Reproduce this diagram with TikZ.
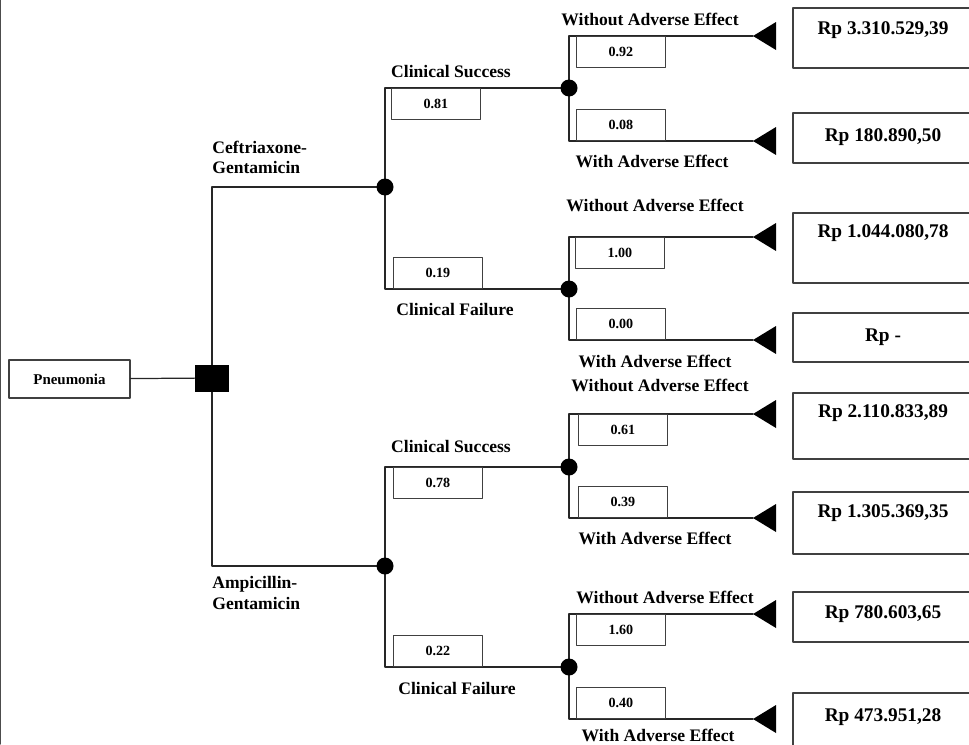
\documentclass[tikz,border=0pt]{standalone}
\usepackage{fontspec}
\setmainfont{Liberation Serif}
\usetikzlibrary{calc}

\begin{document}
\begin{tikzpicture}[x=0.02cm, y=-0.02cm, line cap=round, line join=round,
    treeline/.style={line width=0.7pt, draw=black!85},
    probbox/.style={draw=black!75, line width=0.45pt, minimum width=1.78cm, minimum height=0.62cm, inner sep=0pt, font=\fontsize{8}{9}\selectfont\bfseries},
    lbl/.style={inner sep=0pt, font=\fontsize{10}{11.5}\selectfont\bfseries},
    payoff/.style={inner sep=0pt, font=\fontsize{11}{13}\selectfont\bfseries},
    chance/.style={circle, fill=black, inner sep=0pt, minimum size=0.34cm},
    decision/.style={rectangle, fill=black, inner sep=0pt, minimum width=0.68cm, minimum height=0.54cm}]

    \useasboundingbox (0,0) rectangle (969,744);
    \clip (0,0) rectangle (969,744);

    % left frame edge
    \draw[black!70, line width=0.8pt] (0.6,0) -- (0.6,744);

    \node[draw=black!75, line width=0.6pt, minimum width=2.42cm, minimum height=0.76cm, inner sep=0pt,
          font=\fontsize{8.5}{10}\selectfont\bfseries] (pn) at (69.5,379) {Pneumonia};

    \coordinate (dec) at (212,378);
    \coordinate (c1) at (385,187);
    \coordinate (c2) at (385,566);
    \coordinate (c11) at (569,88);
    \coordinate (c12) at (569,289);
    \coordinate (c21) at (569,467);
    \coordinate (c22) at (569,667);

    % terminal tips
    \foreach \i/\ty in {1/36, 2/141, 3/237, 4/340, 5/414, 6/518, 7/614, 8/719}
        \coordinate (t\i) at (753,\ty);

    % branches
    \draw[treeline] (pn) -- (dec);
    \draw[treeline] (dec) |- (c1);
    \draw[treeline] (dec) |- (c2);
    \draw[treeline] (c1) |- (c11);
    \draw[treeline] (c1) |- (c12);
    \draw[treeline] (c2) |- (c21);
    \draw[treeline] (c2) |- (c22);
    \foreach \c/\t in {c11/t1, c11/t2, c12/t3, c12/t4, c21/t5, c21/t6, c22/t7, c22/t8}
        \draw[treeline] (\c) |- (\t);

    % decision and chance nodes
    \node[decision] at (dec) {};
    \foreach \c in {c1, c2, c11, c12, c21, c22}
        \node[chance] at (\c) {};

    % terminals and payoffs
    \foreach \i/\top/\bot/\txty/\val in {1/8/68/30/{Rp 3.310.529,39}, 2/113/163/137/{Rp 180.890,50},
            3/213/283/233/{Rp 1.044.080,78}, 4/313/362/337/{Rp -},
            5/393/459/413/{Rp 2.110.833,89}, 6/492/554/513/{Rp 1.305.369,35},
            7/592/642/614/{Rp 780.603,65}, 8/693/770/717/{Rp 473.951,28}}{
        \fill[black] (t\i) -- ++(23,-14) -- ++(0,28) -- cycle;
        \draw[draw=black!75, line width=0.6pt] (793,\top) rectangle (990,\bot);
        \node[payoff] (pay\i) at (883,\txty) {\val};
    }

    % probabilities
    \node[probbox, anchor=north west] (p1) at (391,88) {0.81};
    \node[probbox, anchor=south west] (p2) at (393,289) {0.19};
    \node[probbox, anchor=north west] (p3) at (393,467) {0.78};
    \node[probbox, anchor=south west] (p4) at (393,667) {0.22};
    \node[probbox, anchor=north west] (p11) at (576,36) {0.92};
    \node[probbox, anchor=south west] (p12) at (576,141) {0.08};
    \node[probbox, anchor=north west] (p13) at (575,237) {1.00};
    \node[probbox, anchor=south west] (p14) at (576,340) {0.00};
    \node[probbox, anchor=north west] (p21) at (578,414) {0.61};
    \node[probbox, anchor=south west] (p22) at (578,518) {0.39};
    \node[probbox, anchor=north west] (p23) at (576,614) {1.60};
    \node[probbox, anchor=south west] (p24) at (576,719) {0.40};

    % branch labels
    \node[lbl, align=left, anchor=west] (arm1) at (212,157) {Ceftriaxone-\\Gentamicin};
    \node[lbl, align=left, anchor=west] (arm2) at (212,593) {Ampicillin-\\Gentamicin};
    \node[lbl] (cs1) at (451,72) {Clinical Success};
    \node[lbl] (cf1) at (455,310) {Clinical Failure};
    \node[lbl] (cs2) at (451,447) {Clinical Success};
    \node[lbl] (cf2) at (457,688) {Clinical Failure};
    \node[lbl] (w1) at (650,19) {Without Adverse Effect};
    \node[lbl] (a1) at (652,161) {With Adverse Effect};
    \node[lbl] (w2) at (655,205) {Without Adverse Effect};
    \node[lbl] (a2) at (655,361) {With Adverse Effect};
    \node[lbl] (w3) at (660,385) {Without Adverse Effect};
    \node[lbl] (a3) at (655,538) {With Adverse Effect};
    \node[lbl] (w4) at (665,597) {Without Adverse Effect};
    \node[lbl] (a4) at (658,735) {With Adverse Effect};

\end{tikzpicture}
\end{document}
